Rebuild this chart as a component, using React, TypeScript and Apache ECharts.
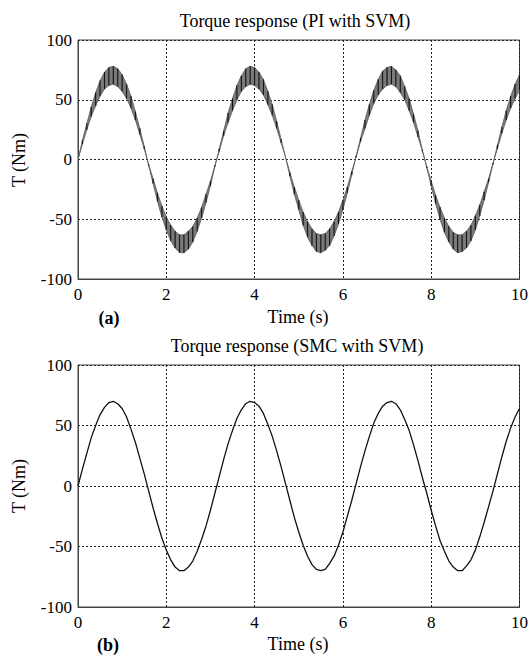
import React, { useEffect, useRef } from "react";
import * as echarts from "echarts";

const titleA = "Torque response (PI with SVM)";
const titleB = "Torque response (SMC with SVM)";
const xLabel = "Time (s)";
const yLabel = "T (Nm)";
const panelA = "(a)";
const panelB = "(b)";

const timeS = [
  0, 0.1, 0.2, 0.3, 0.4, 0.5, 0.6, 0.7, 0.8, 0.9,
  1, 1.1, 1.2, 1.3, 1.4, 1.5, 1.6, 1.7, 1.8, 1.9,
  2, 2.1, 2.2, 2.3, 2.4, 2.5, 2.6, 2.7, 2.8, 2.9,
  3, 3.1, 3.2, 3.3, 3.4, 3.5, 3.6, 3.7, 3.8, 3.9,
  4, 4.1, 4.2, 4.3, 4.4, 4.5, 4.6, 4.7, 4.8, 4.9,
  5, 5.1, 5.2, 5.3, 5.4, 5.5, 5.6, 5.7, 5.8, 5.9,
  6, 6.1, 6.2, 6.3, 6.4, 6.5, 6.6, 6.7, 6.8, 6.9,
  7, 7.1, 7.2, 7.3, 7.4, 7.5, 7.6, 7.7, 7.8, 7.9,
  8, 8.1, 8.2, 8.3, 8.4, 8.5, 8.6, 8.7, 8.8, 8.9,
  9, 9.1, 9.2, 9.3, 9.4, 9.5, 9.6, 9.7, 9.8, 9.9,
  10,
];

// (a) PI with SVM: outer and inner edges of the ripple band
const outerA = [
  0, 16, 30, 44, 56, 66, 73, 77, 78, 76,
  71, 63, 53, 40, 26, 11, -5, -20, -35, -48,
  -59, -68, -74, -78, -78, -75, -69, -60, -49, -36,
  -22, -6, 9, 24, 39, 51, 62, 70, 76, 78,
  77, 73, 67, 57, 46, 32, 17, 2, -14, -29,
  -42, -55, -65, -72, -77, -78, -76, -72, -64, -54,
  -42, -28, -13, 3, 18, 33, 46, 58, 67, 74,
  77, 78, 75, 70, 61, 51, 38, 24, 8, -7,
  -22, -37, -50, -61, -69, -75, -78, -77, -74, -68,
  -59, -47, -34, -19, -4, 12, 27, 41, 53, 63,
  71,
];
const innerA = [
  0, 13, 25, 36, 45, 53, 59, 62, 63, 61,
  57, 51, 43, 33, 21, 9, -4, -16, -28, -39,
  -48, -55, -60, -63, -63, -60, -56, -49, -40, -29,
  -18, -5, 7, 20, 31, 41, 50, 57, 61, 63,
  62, 59, 54, 46, 37, 26, 14, 2, -11, -23,
  -34, -44, -52, -58, -62, -63, -62, -58, -52, -44,
  -34, -23, -10, 2, 15, 26, 37, 47, 54, 59,
  62, 63, 61, 56, 50, 41, 31, 19, 7, -6,
  -18, -30, -40, -49, -56, -61, -63, -63, -60, -55,
  -47, -38, -27, -16, -3, 9, 22, 33, 43, 51,
  58,
];

// (b) SMC with SVM
const torqueB = [
  0, 14, 27, 40, 50, 59, 65, 69, 70, 68,
  64, 57, 47, 36, 23, 10, -4, -18, -31, -43,
  -53, -61, -67, -70, -70, -67, -62, -54, -44, -33,
  -20, -6, 8, 22, 35, 46, 56, 63, 68, 70,
  69, 66, 60, 51, 41, 29, 16, 2, -12, -26,
  -38, -49, -58, -65, -69, -70, -69, -64, -58, -49,
  -38, -25, -12, 2, 16, 29, 41, 52, 60, 66,
  69, 70, 68, 63, 55, 46, 34, 21, 7, -6,
  -20, -33, -45, -54, -62, -67, -70, -70, -66, -61,
  -53, -42, -30, -17, -4, 10, 24, 37, 48, 57,
  64,
];

const xTicks = [0, 2, 4, 6, 8, 10];
const yTicks = [-100, -50, 0, 50, 100];

const FONT = "'Liberation Serif', 'Times New Roman', serif";

export default function App() {
  const ref = useRef<HTMLDivElement>(null);
  useEffect(() => {
    document.body.style.margin = "0";
    if (!ref.current) return;
    const chart = echarts.init(ref.current, undefined, { renderer: "svg" });

    const bandA = timeS.map((t, i) => [
      t,
      outerA[i],
      innerA[i],
      i + 1 < timeS.length ? timeS[i + 1] : t,
      i + 1 < timeS.length ? outerA[i + 1] : outerA[i],
      i + 1 < timeS.length ? innerA[i + 1] : innerA[i],
    ]);
    const lineB = timeS.map((t, i) => [t, torqueB[i]]);

    const grids = [
      { left: 78, top: 40, width: 442, height: 239 },
      { left: 78, top: 365, width: 442, height: 242 },
    ];

    const mkX = (gi: number) => ({
      type: "value",
      gridIndex: gi,
      min: xTicks[0],
      max: xTicks[xTicks.length - 1],
      interval: 2,
      axisLine: { show: true, onZero: false, lineStyle: { color: "#444", width: 1 } },
      axisTick: { show: false },
      axisLabel: { color: "#000", fontFamily: FONT, fontSize: 17, margin: 7 },
      splitLine: { show: true, lineStyle: { color: "#222", width: 1, type: [2, 2] } },
    });
    const mkY = (gi: number) => ({
      type: "value",
      gridIndex: gi,
      min: yTicks[0],
      max: yTicks[yTicks.length - 1],
      interval: 50,
      axisLine: { show: true, onZero: false, lineStyle: { color: "#444", width: 1 } },
      axisTick: { show: false },
      axisLabel: { color: "#000", fontFamily: FONT, fontSize: 17, margin: 6 },
      splitLine: { show: true, lineStyle: { color: "#222", width: 1, type: [2, 2] } },
    });

    const txt = (x: number, y: number, text: string, extra: any = {}) => ({
      type: "text",
      x,
      y,
      style: {
        text,
        fontFamily: FONT,
        fontSize: 17,
        fill: "#000",
        align: "center",
        verticalAlign: "middle",
        ...extra,
      },
    });

    chart.setOption({
      animation: false,
      backgroundColor: "#fff",
      grid: grids.map((g) => ({ ...g, show: true, borderColor: "#444", borderWidth: 1, backgroundColor: "transparent" })),
      xAxis: [mkX(0), mkX(1)],
      yAxis: [mkY(0), mkY(1)],
      series: [
        {
          type: "custom",
          xAxisIndex: 0,
          yAxisIndex: 0,
          data: bandA,
          clip: true,
          renderItem: (params: any, api: any) => {
            const t0 = api.value(0);
            const o0 = api.value(1);
            const n0 = api.value(2);
            const t1 = api.value(3);
            const o1 = api.value(4);
            const n1 = api.value(5);
            const pO0 = api.coord([t0, o0]);
            const pN0 = api.coord([t0, n0]);
            const pO1 = api.coord([t1, o1]);
            const pN1 = api.coord([t1, n1]);
            const children: any[] = [];
            if (t1 > t0) {
              children.push({
                type: "polygon",
                shape: { points: [pO0, pO1, pN1, pN0] },
                style: { fill: "#7a7a7a", stroke: "#5a5a5a", lineWidth: 0.8 },
              });
            }
            children.push({
              type: "line",
              shape: { x1: pO0[0], y1: pO0[1], x2: pN0[0], y2: pN0[1] },
              style: { stroke: "#111", lineWidth: 1 },
            });
            return { type: "group", children };
          },
        },
        {
          type: "line",
          xAxisIndex: 1,
          yAxisIndex: 1,
          data: lineB,
          showSymbol: false,
          symbol: "none",
          lineStyle: { color: "#111", width: 1.3 },
        },
      ],
      graphic: [
        txt(295, 21, titleA, { fontSize: 18 }),
        txt(297, 346, titleB, { fontSize: 18 }),
        txt(298, 317, xLabel, { fontSize: 18 }),
        txt(298, 644, xLabel, { fontSize: 18 }),
        txt(109, 318, panelA, { fontWeight: "bold", fontSize: 18 }),
        txt(108, 645, panelB, { fontWeight: "bold", fontSize: 18 }),
        { ...txt(0, 0, yLabel, { fontSize: 18 }), x: 19, y: 160, rotation: Math.PI / 2 },
        { ...txt(0, 0, yLabel, { fontSize: 18 }), x: 19, y: 486, rotation: Math.PI / 2 },
      ],
    });
    return () => chart.dispose();
  }, []);
  return <div ref={ref} style={{ width: 531, height: 657 }} />;
}
